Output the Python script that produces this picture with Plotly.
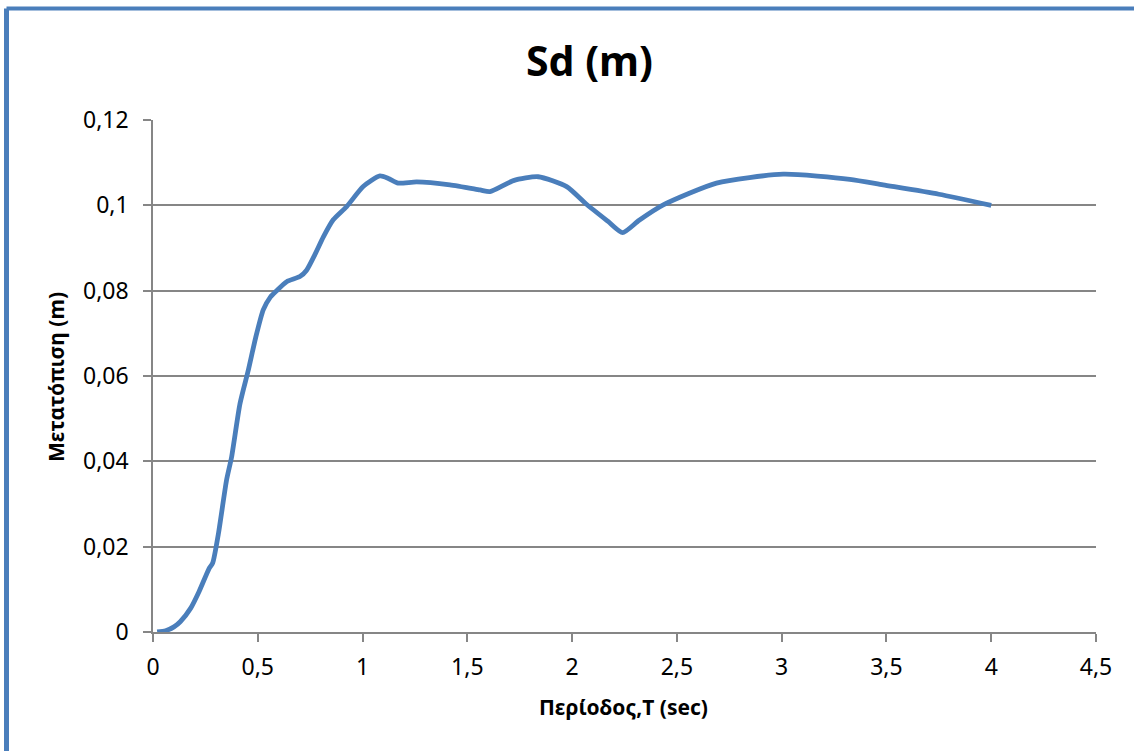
import plotly.graph_objects as go

period_T = [0.02, 0.06, 0.10, 0.13, 0.18, 0.22, 0.267, 0.285, 0.312, 0.351, 0.375, 0.415, 0.455,
            0.49, 0.526, 0.56, 0.59, 0.638, 0.701, 0.733, 0.773, 0.813, 0.86, 0.924, 1.003,
            1.083, 1.123, 1.17, 1.258, 1.417, 1.56, 1.608, 1.72, 1.838, 1.974, 2.07, 2.17, 2.241,
            2.32, 2.435, 2.689, 3.007, 3.325, 3.484, 3.75, 4.0]
sd_m = [0.0, 0.0003, 0.0012, 0.0024, 0.0056, 0.0095, 0.0148, 0.0162, 0.023, 0.0356, 0.041,
        0.0535, 0.0614, 0.069, 0.0755, 0.0785, 0.080, 0.0821, 0.0833, 0.0848, 0.0885, 0.0926,
        0.0966, 0.0997, 0.1044, 0.1069, 0.1063, 0.1052, 0.1055, 0.1048, 0.1036, 0.1032,
        0.1058, 0.1067, 0.1044, 0.1002, 0.0963, 0.0936, 0.0965, 0.1001, 0.1052, 0.1073,
        0.1061, 0.1048, 0.1026, 0.1000]

x_ticks = [0, 0.5, 1, 1.5, 2, 2.5, 3, 3.5, 4, 4.5]
y_ticks = [0, 0.02, 0.04, 0.06, 0.08, 0.1, 0.12]

FONT = "Noto Sans"
W, H = 1134, 751
L, R, T, B = 153, 38, 120, 119
pw, ph = W - L - R, H - T - B


def px_x(p):
    return (p - L) / pw


def px_y(p):
    return (H - B - p) / ph


fig = go.Figure()
fig.add_trace(go.Scatter(
    x=period_T, y=sd_m, mode="lines",
    line=dict(color="#4a7ebb", width=4.8, shape="spline", smoothing=0.6),
    showlegend=False, hoverinfo="x+y",
))

axis_common = dict(zeroline=False, showline=True, linecolor="#868686", linewidth=1.5,
                   ticks="outside", ticklen=8, tickcolor="#868686", tickwidth=1.5,
                   tickfont=dict(size=23, family=FONT, color="black"))

fig.update_layout(
    width=W, height=H,
    margin=dict(l=L, r=R, t=T, b=B),
    paper_bgcolor="white", plot_bgcolor="white",
    separators=",.",
    font=dict(family=FONT, color="black", size=23),
    xaxis=dict(range=[0, 4.5], tickvals=x_ticks, showgrid=False, ticklabelstandoff=6,
               **axis_common),
    yaxis=dict(range=[0, 0.12], tickvals=y_ticks, showgrid=True, gridcolor="#868686",
               gridwidth=1.5, ticklabelstandoff=10, **axis_common),
    annotations=[
        dict(text="<b>Sd (m)</b>", xref="paper", yref="paper", x=px_x(589), y=px_y(60),
             xanchor="center", yanchor="middle", showarrow=False,
             font=dict(size=41, family=FONT, color="black")),
        dict(text="<b>Περίοδος,T (sec)</b>", xref="paper", yref="paper", x=px_x(623), y=px_y(707),
             xanchor="center", yanchor="middle", showarrow=False,
             font=dict(size=21, family=FONT, color="black")),
        dict(text="<b>Μετατόπιση (m)</b>", xref="paper", yref="paper", x=px_x(56), y=px_y(377),
             xanchor="center", yanchor="middle", showarrow=False, textangle=-90,
             font=dict(size=21, family=FONT, color="black")),
    ],
    shapes=[
        dict(type="line", xref="paper", yref="paper", x0=px_x(6.5), x1=px_x(W + 5),
             y0=px_y(8.5), y1=px_y(8.5), line=dict(color="#4a7ebb", width=4)),
        dict(type="line", xref="paper", yref="paper", x0=px_x(6.5), x1=px_x(6.5),
             y0=px_y(8.5), y1=px_y(H + 5), line=dict(color="#4a7ebb", width=5)),
    ],
)

fig.write_html("out.html")
